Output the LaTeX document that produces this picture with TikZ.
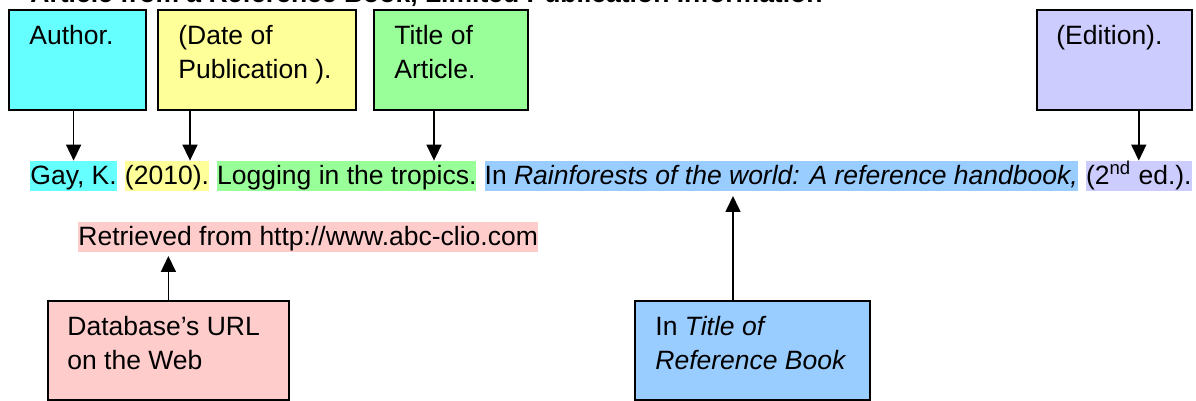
\documentclass[tikz,border=0pt]{standalone}
\usepackage{fontspec}
\setmainfont{Liberation Sans}
\usetikzlibrary{positioning,arrows.meta}
\definecolor{authorcyan}{HTML}{66FFFF}
\definecolor{dateyellow}{HTML}{FFFF99}
\definecolor{titlegreen}{HTML}{99FF99}
\definecolor{edlilac}{HTML}{CCCCFF}
\definecolor{bookblue}{HTML}{99CCFF}
\definecolor{urlpink}{HTML}{FFCCCC}
\newcommand{\reffont}{\fontsize{13.25}{17}\selectfont}
\tikzset{
  tagbox/.style={draw=black, line width=0.9pt, anchor=north west, inner sep=0pt, minimum height=49.75pt},
  tagtext/.style={anchor=north west, inner sep=0pt, align=left, font=\reffont},
  hl/.style={inner xsep=0pt, inner ysep=0pt, text height=12pt, text depth=2.8pt, font=\reffont},
  pointer/.style={line width=0.8pt, -{Triangle[length=8pt,width=7.5pt]}}
}
\begin{document}
\begin{tikzpicture}[x=0.5pt,y=-0.5pt]
\useasboundingbox (0,0) rectangle (1196,401);
\node[anchor=base west, inner sep=0pt, font=\reffont\bfseries] (heading) at (30,3) {Article from a Reference Book, Limited Publication Information};
\node[tagbox, fill=authorcyan, minimum width=68.5pt] (author) at (8,9.5) {};
\node[tagbox, fill=dateyellow, minimum width=99pt] (date) at (157,9.5) {};
\node[tagbox, fill=titlegreen, minimum width=77pt] (title) at (373,9.5) {};
\node[tagbox, fill=edlilac, minimum width=77.5pt] (edition) at (1036,9.5) {};
\node[tagbox, fill=urlpink, minimum width=120.5pt, minimum height=49.5pt] (database) at (47,300) {};
\node[tagbox, fill=bookblue, minimum width=117.5pt, minimum height=49.5pt] (refbook) at (634,300) {};
\node[tagtext] (authortxt) at ([shift={(21,11)}]author.north west) {\strut Author.};
\node[tagtext] (datetxt) at ([shift={(21,11)}]date.north west) {\strut(Date of\\\strut Publication ).};
\node[tagtext] (titletxt) at ([shift={(21,11)}]title.north west) {\strut Title of\\\strut Article.};
\node[tagtext] (editiontxt) at ([shift={(20,11)}]edition.north west) {\strut(Edition).};
\node[tagtext] (databasetxt) at ([shift={(20,11)}]database.north west) {\strut Database’s URL\\\strut on the Web};
\node[tagtext] (refbooktxt) at ([shift={(21,11)}]refbook.north west) {\strut In \textit{Title of}\\\strut\textit{Reference Book}};
\node[hl, fill=authorcyan, anchor=base west] (gay) at (30,185) {Gay, K.};
\node[hl, fill=dateyellow, right=3.7pt of gay] (year) {(2010).};
\node[hl, fill=titlegreen, right=3.7pt of year] (logging) {Logging in the tropics.};
\node[hl, fill=bookblue, right=3.7pt of logging] (rainforest) {In \textit{Rainforests of the world: A reference handbook,}};
\node[hl, fill=edlilac, right=3.7pt of rainforest] (second) {(2\textsuperscript{nd} ed.).};
\node[hl, fill=urlpink, anchor=base west] (retrieved) at (78,246) {Retrieved from http://www.abc-clio.com};
\draw[pointer] (author.south -| gay.north) -- (gay.north);
\draw[pointer] ([xshift=16.5pt]date.south west) -- ([xshift=16.5pt]date.south west |- year.north);
\draw[pointer] ([xshift=30.5pt]title.south west) -- ([xshift=30.5pt]title.south west |- logging.north);
\draw[pointer] (edition.south -| second.north) -- (second.north);
\draw[pointer, shorten >=2pt] (database.north) -- (database.north |- retrieved.south);
\draw[pointer, shorten >=2.5pt] ([xshift=49.5pt]refbook.north west) -- ([xshift=49.5pt]refbook.north west |- rainforest.south);
\end{tikzpicture}
\end{document}
